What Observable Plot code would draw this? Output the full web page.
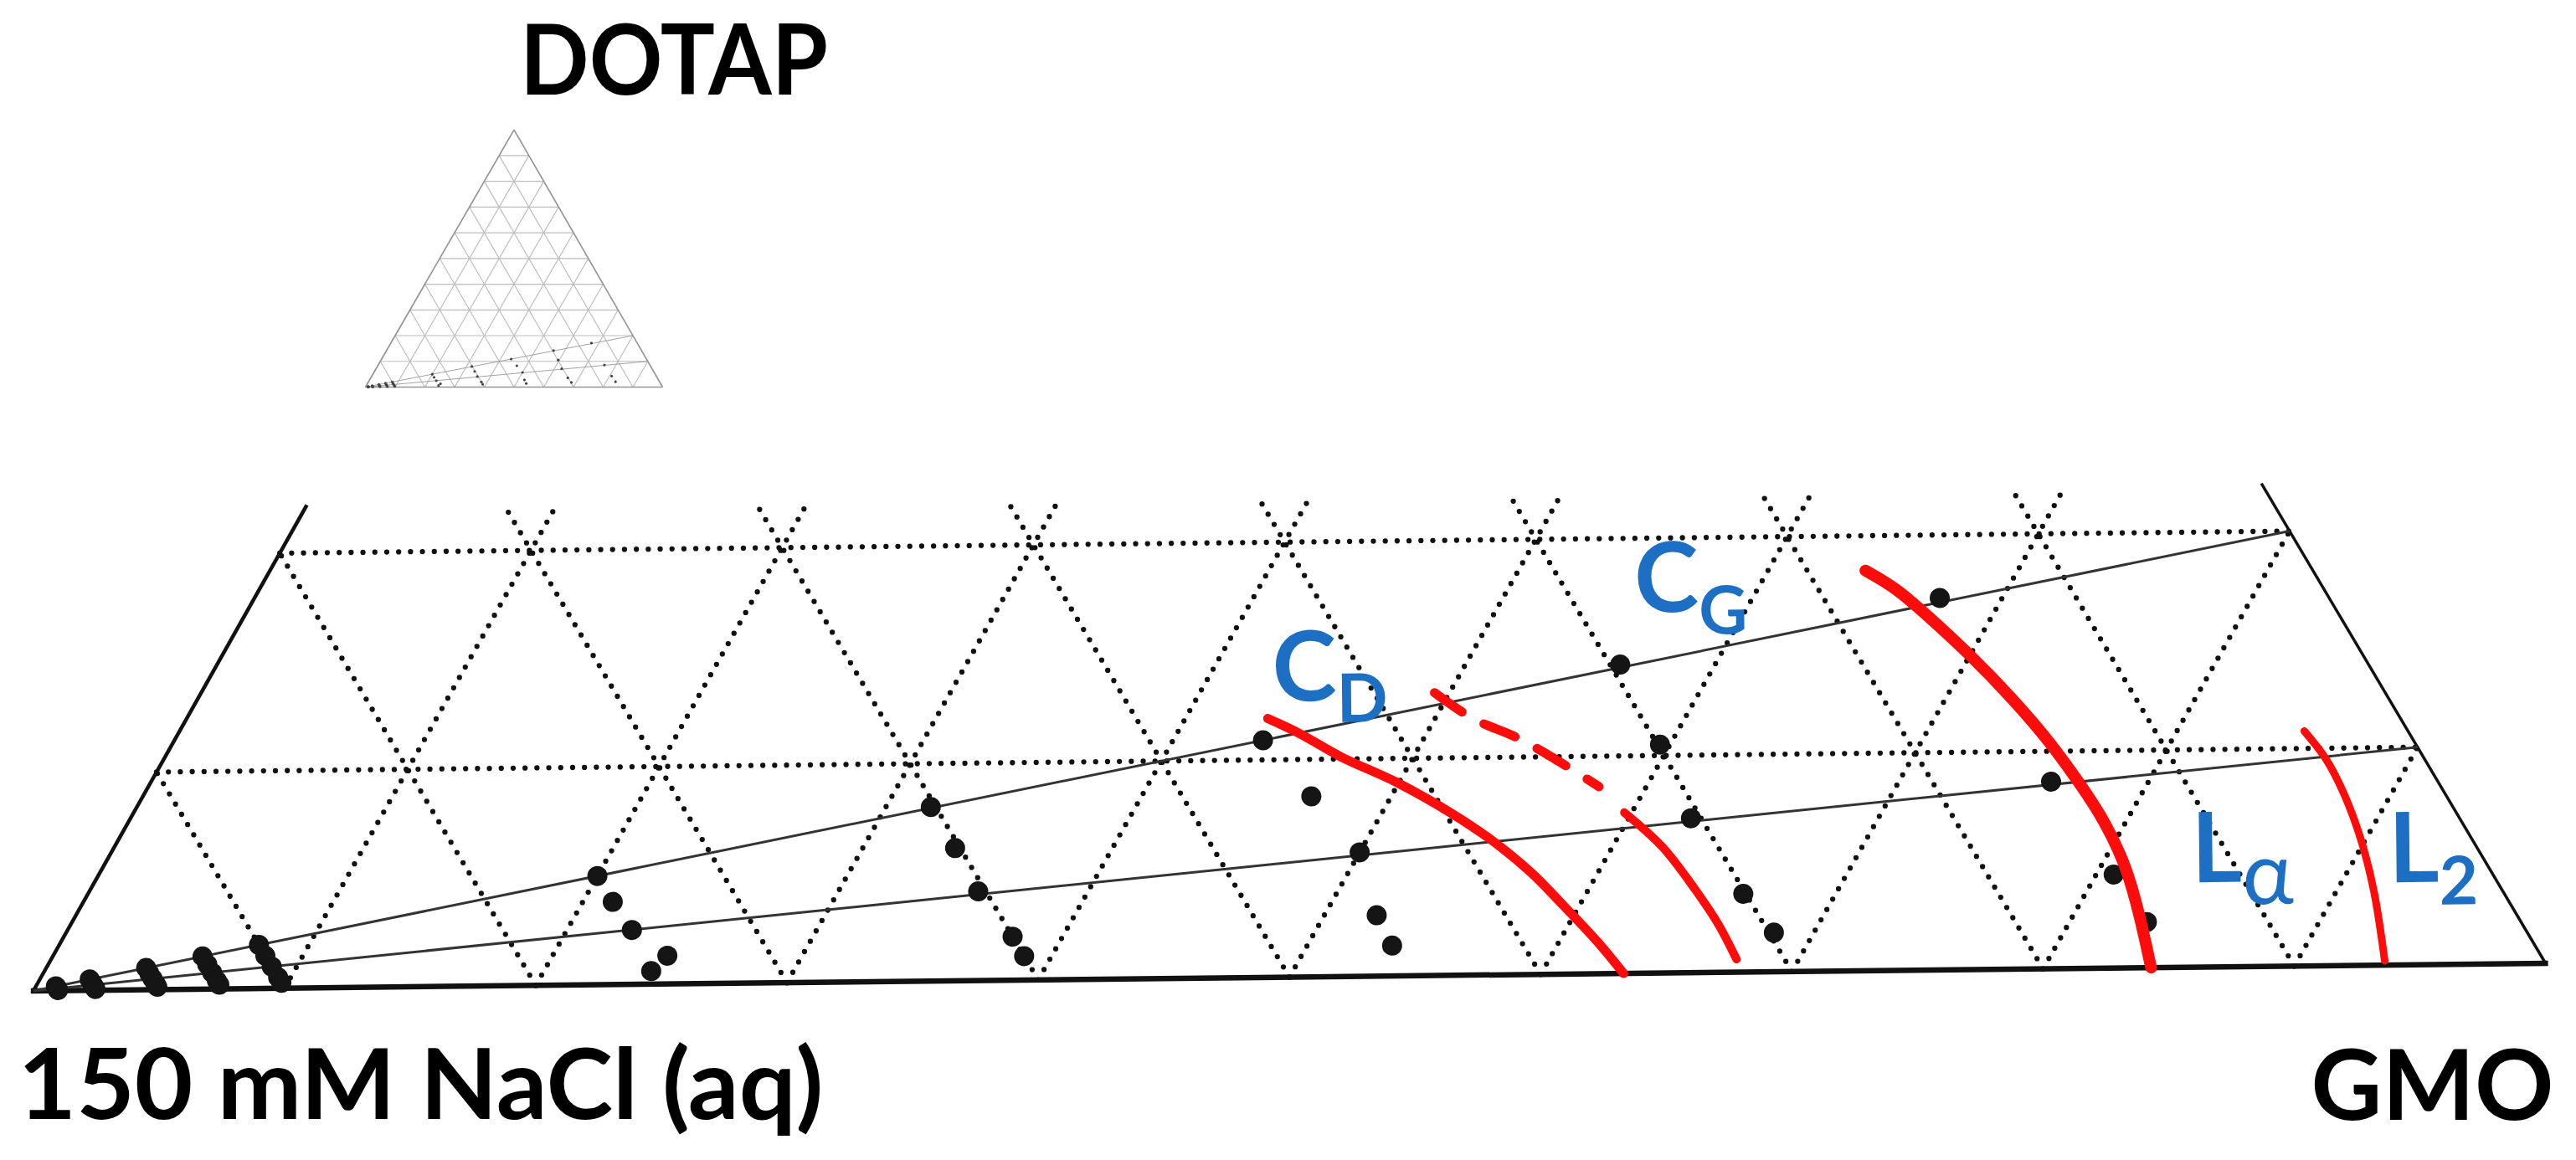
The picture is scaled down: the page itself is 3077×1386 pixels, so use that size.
<!DOCTYPE html>
<html>
<head>
<meta charset="utf-8">
<script src="https://cdn.jsdelivr.net/npm/d3@7"></script>
<script src="https://cdn.jsdelivr.net/npm/@observablehq/plot@0.6"></script>
<style>
  html, body { margin: 0; padding: 0; background: #fff; }
  #chart { position: relative; width: 3077px; height: 1386px; overflow: hidden; background: #fff; }
  #chart svg { position: absolute; left: 0; top: 0; }
</style>
</head>
<body>
<div id="chart"></div>
<script>
// ------------------------------------------------------------------
// DATA (all compositions in wt %, DOTAP / GMO; water = remainder)
// ------------------------------------------------------------------
const gridTicks = [10, 20, 30, 40, 50, 60, 70, 80, 90];
const stripTopDotap = 22.2;              // top of the magnified strip
const dilutionEndDotap = [20, 10];       // dilution (tie) lines end on DOTAP–GMO edge
const dilutionEndGmo = [80, 90];

// sample compositions (black dots)
const sampleDotap = [
  0.2, 0.15, 0.1, 0.05, 0.03,
  0.5, 0.38, 0.25, 0.13, 0.06,
  1.0, 0.75, 0.5, 0.25, 0.13,
  1.5, 1.13, 0.75, 0.38, 0.19,
  2.0, 1.5, 1.0, 0.5, 0.25,
  5.0, 3.8, 2.5, 1.3, 0.6,
  8.0, 6.1, 4.1, 2.0, 1.1,
  10.9, 8.3, 5.7, 2.8, 1.4,
  14.2, 10.5, 7.1, 3.6, 1.8,
  17.1, 8.6, 4.3, 2.1
];
const sampleGmo = [
  0.8, 0.85, 0.9, 0.95, 0.97,
  2.0, 2.12, 2.25, 2.37, 2.44,
  4.0, 4.25, 4.5, 4.75, 4.87,
  6.0, 6.37, 6.75, 7.12, 7.31,
  8.0, 8.5, 9.0, 9.5, 9.75,
  20.0, 21.2, 22.6, 24.6, 24.3,
  31.8, 33.7, 35.6, 38.0, 38.9,
  43.6, 46.8, 50.0, 52.1, 53.4,
  56.2, 59.6, 62.5, 66.3, 68.4,
  67.5, 76.1, 80.7, 83.1
];

// phase boundaries (red)
const cdBoundaryDotap = [11.9, 11.2, 10.1, 8.9, 7.5, 6.2, 4.7, 3.2, 1.5, 0];
const cdBoundaryGmo   = [43.3, 44.9, 47.1, 49.9, 52.7, 55.0, 57.3, 59.3, 61.5, 63.3];
const dashedBoundaryDotap = [13.0, 11.8, 10.9, 9.9, 8.6];
const dashedBoundaryGmo   = [49.4, 51.5, 53.7, 55.7, 58.1];
const cgBoundaryDotap = [7.4, 5.8, 3.8, 2.2, 0.6];
const cgBoundaryGmo   = [59.7, 62.0, 64.3, 66.0, 67.5];
const laBoundaryDotap = [18.4, 17.6, 16.3, 14.4, 12.5, 10.4, 8.4, 6.8, 4.7, 2.5, 0];
const laBoundaryGmo   = [63.9, 65.5, 67.4, 70.1, 72.6, 75.2, 77.4, 79.1, 81.0, 82.6, 84.3];
const l2BoundaryDotap = [10.8, 9.5, 7.9, 5.8, 3.4, 0.2];
const l2BoundaryGmo   = [85.1, 86.6, 88.1, 89.8, 91.5, 93.5];

// phase labels
const phaseMain  = ["C", "C", "L", "L"];
const phaseSub   = ["D", "G", "α", "2"];
const phaseDotap = [12.7, 16.6, 3.9, 3.8];
const phaseGmo   = [43.5, 56.0, 84.4, 92.3];

// component (corner) labels
const cornerNames = ["DOTAP", "150 mM NaCl (aq)", "GMO"];

// ------------------------------------------------------------------
// helpers
// ------------------------------------------------------------------
const zip = (dotap, gmo) => dotap.map((d, i) => ({dotap: d, gmo: gmo[i]}));
const px = d => (d.gmo + d.dotap / 2) / 100;   // ternary projection
const py = d => d.dotap / 100;
const sx1 = d => (d.g1 + d.d1 / 2) / 100, sy1 = d => d.d1 / 100;
const sx2 = d => (d.g2 + d.d2 / 2) / 100, sy2 = d => d.d2 / 100;

const FONT = "Lato, 'Open Sans', 'DejaVu Sans', sans-serif";
const BLUE = "#1c6fc3";
const RED = "#fe0b0b";

function gridSegments(top) {
  const segs = [];
  for (const k of gridTicks) {
    const h1 = Math.min(top, 100 - k);
    segs.push({d1: 0, g1: k, d2: h1, g2: k});                 // constant GMO
    segs.push({d1: 0, g1: 100 - k, d2: h1, g2: 100 - k - h1}); // constant water
  }
  for (const k of gridTicks) if (k < top) segs.push({d1: k, g1: 0, d2: k, g2: 100 - k}); // constant DOTAP
  return segs;
}
function edgeSegments(top) {
  return [
    {d1: 0, g1: 0, d2: top, g2: 0},
    {d1: 0, g1: 100, d2: top, g2: 100 - top}
  ];
}
const dilution = dilutionEndDotap.map((d, i) => ({d1: 0, g1: 0, d2: d, g2: dilutionEndGmo[i]}));
const samples = zip(sampleDotap, sampleGmo);
const phaseLabels = phaseMain.map((m, i) => ({main: m, sub: phaseSub[i], dotap: phaseDotap[i], gmo: phaseGmo[i]}));

const chart = document.getElementById("chart");

// ------------------------------------------------------------------
// main magnified strip
// ------------------------------------------------------------------
const scales = {
  x: {domain: [0, 1], range: [34, 3035], axis: null},
  y: {domain: [0, 1], range: [1167, 1167 - 2599], axis: null}
};
const main = Plot.plot({
  width: 3077, height: 1386, margin: 0,
  ...scales,
  style: {background: "white", overflow: "visible"},
  marks: [
    Plot.link(gridSegments(stripTopDotap), {x1: sx1, y1: sy1, x2: sx2, y2: sy2,
      stroke: "#111", strokeWidth: 6.3, strokeDasharray: "0 14.2", strokeLinecap: "round"}),
    Plot.link(edgeSegments(stripTopDotap).slice(0, 1), {x1: sx1, y1: sy1, x2: sx2, y2: sy2,
      stroke: "#111", strokeWidth: 4.5}),
    Plot.link(edgeSegments(stripTopDotap).slice(1), {x1: sx1, y1: sy1, x2: sx2, y2: sy2,
      stroke: "#111", strokeWidth: 3.5}),
    Plot.link([{d1: 0, g1: -0.1, d2: 0, g2: 100.1}], {x1: sx1, y1: sy1, x2: sx2, y2: sy2,
      stroke: "#111", strokeWidth: 6.5}),
    Plot.link(dilution, {x1: sx1, y1: sy1, x2: sx2, y2: sy2, stroke: "#333", strokeWidth: 3}),
    Plot.dot(samples, {x: px, y: py, r: 12, fill: "#151515", stroke: "none"}),
    Plot.line(zip(cdBoundaryDotap, cdBoundaryGmo), {x: px, y: py, curve: "catmull-rom",
      stroke: RED, strokeWidth: 11, strokeLinecap: "round"}),
    Plot.line(zip(dashedBoundaryDotap, dashedBoundaryGmo), {x: px, y: py, curve: "catmull-rom",
      stroke: RED, strokeWidth: 11, strokeLinecap: "round", strokeDasharray: "40 30"}),
    Plot.line(zip(cgBoundaryDotap, cgBoundaryGmo), {x: px, y: py, curve: "catmull-rom",
      stroke: RED, strokeWidth: 10, strokeLinecap: "round"}),
    Plot.line(zip(laBoundaryDotap, laBoundaryGmo), {x: px, y: py, curve: "basis",
      stroke: RED, strokeWidth: 14, strokeLinecap: "round"}),
    Plot.line(zip(l2BoundaryDotap, l2BoundaryGmo), {x: px, y: py, curve: "catmull-rom",
      stroke: RED, strokeWidth: 9, strokeLinecap: "round"}),
    Plot.text(phaseLabels, {x: px, y: py, text: "main", textAnchor: "start", lineAnchor: "bottom",
      dx: -12, fontSize: 116, fontWeight: 700, fontFamily: FONT, fill: BLUE})
  ]
});
main.style.transform = "rotate(-0.63deg)";
main.style.transformOrigin = "1538px 693px";
chart.appendChild(main);

// subscripts as tspans of the phase labels (one text element per label),
// placed right after the main letter so that the two never overlap
const subStyle = {
  "D": {gap: 0, dy: 26, size: 80, weight: 700},
  "G": {gap: 0, dy: 27, size: 80, weight: 700},
  "α": {gap: 0, dy: 27, size: 104, weight: 400},
  "2": {gap: 0, dy: 27, size: 80, weight: 700}
};
const phaseTexts = Array.from(main.querySelectorAll("text"))
  .filter(t => phaseMain.includes(t.textContent));
phaseTexts.forEach((t, i) => {
  const d = phaseLabels[i];
  if (!d) return;
  const s = subStyle[d.sub];
  const ts = document.createElementNS("http://www.w3.org/2000/svg", "tspan");
  ts.setAttribute("dx", s.gap);
  ts.setAttribute("dy", s.dy);
  ts.setAttribute("font-size", s.size);
  ts.setAttribute("font-weight", s.weight);
  ts.textContent = d.sub;
  t.appendChild(ts);
});

// ------------------------------------------------------------------
// corner labels of the magnified strip (not rotated)
// ------------------------------------------------------------------
const corners = [
  {name: cornerNames[1], dotap: 0, gmo: 0},
  {name: cornerNames[2], dotap: 0, gmo: 100}
];
const labels = Plot.plot({
  width: 3077, height: 1386, margin: 0,
  ...scales,
  style: {background: "transparent", overflow: "visible"},
  marks: [
    Plot.text(corners.slice(0, 1), {x: px, y: py, text: "name", textAnchor: "start", lineAnchor: "bottom",
      dx: -13, dy: 169, fontSize: 116, fontWeight: 700, fontFamily: FONT, fill: "#000"}),
    Plot.text(corners.slice(1), {x: px, y: py, text: "name", textAnchor: "end", lineAnchor: "bottom",
      dx: 15, dy: 170, fontSize: 116, fontWeight: 700, fontFamily: FONT, fill: "#000"})
  ]
});
chart.appendChild(labels);

// ------------------------------------------------------------------
// inset: full ternary diagram
// ------------------------------------------------------------------
const inset = Plot.plot({
  width: 1100, height: 500, margin: 0,
  x: {domain: [0, 1], range: [436, 791], axis: null},
  y: {domain: [0, 1], range: [462, 462 - 307.4], axis: null},
  style: {background: "transparent", overflow: "visible"},
  marks: [
    Plot.link(gridSegments(100), {x1: sx1, y1: sy1, x2: sx2, y2: sy2, stroke: "#bdbdbd", strokeWidth: 1.2}),
    Plot.link(edgeSegments(100).concat([{d1: 0, g1: 0, d2: 0, g2: 100}]),
      {x1: sx1, y1: sy1, x2: sx2, y2: sy2, stroke: "#959595", strokeWidth: 1.7}),
    Plot.link(dilution, {x1: sx1, y1: sy1, x2: sx2, y2: sy2, stroke: "#999", strokeWidth: 0.9}),
    Plot.dot(samples, {x: px, y: py, r: 1.6, fill: "#444", stroke: "none"}),
    Plot.text([{name: cornerNames[0], dotap: 100, gmo: 0}], {x: px, y: py, text: "name",
      textAnchor: "start", lineAnchor: "bottom", dx: 7, dy: -42,
      fontSize: 116, fontWeight: 700, fontFamily: FONT, fill: "#000"})
  ]
});
chart.appendChild(inset);

// fit the bold component labels to the widths they take in the figure
const fitWidth = {"DOTAP": 368, "150 mM NaCl (aq)": 962, "GMO": 290};
d3.selectAll("#chart text").each(function() {
  const w = fitWidth[this.textContent];
  if (w) { this.setAttribute("textLength", w); this.setAttribute("lengthAdjust", "spacingAndGlyphs"); }
});
</script>
</body>
</html>
